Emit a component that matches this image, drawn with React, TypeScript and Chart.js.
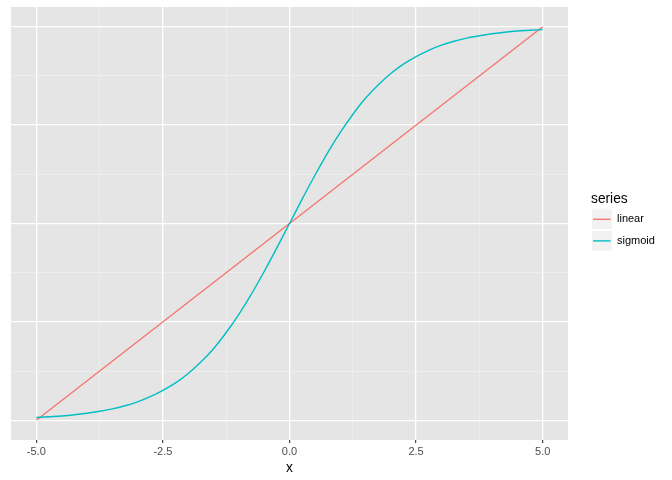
import React, { useEffect, useRef } from "react";
import { Chart, registerables } from "chart.js";

Chart.register(...registerables);

// ---- data ----
const sigmoidX = [
  -5, -4.75, -4.5, -4.25, -4, -3.75, -3.5, -3.25, -3, -2.75, -2.5, -2.25, -2, -1.75, -1.5, -1.25, -1, -0.75, -0.5, -0.25,
  0, 0.25, 0.5, 0.75, 1, 1.25, 1.5, 1.75, 2, 2.25, 2.5, 2.75, 3, 3.25, 3.5, 3.75, 4, 4.25, 4.5, 4.75, 5,
];
const sigmoidY = [
  -4.93, -4.91, -4.89, -4.86, -4.82, -4.77, -4.71, -4.63, -4.53, -4.4, -4.24, -4.05, -3.81, -3.52, -3.18, -2.77, -2.31,
  -1.79, -1.22, -0.62, 0, 0.62, 1.22, 1.79, 2.31, 2.77, 3.18, 3.52, 3.81, 4.05, 4.24, 4.4, 4.53, 4.63, 4.71, 4.77, 4.82,
  4.86, 4.89, 4.91, 4.93,
];
const linearX = [-5, 5];
const linearY = [-5, 5];

const seriesNames = ["linear", "sigmoid"];
const seriesColors = ["#F8766D", "#00BFC4"];
const legendTitle = "series";
const xAxisTitle = "x";

const xMajorTicks = [-5, -2.5, 0, 2.5, 5];
const xTickLabels = ["-5.0", "-2.5", "0.0", "2.5", "5.0"];
const xMinorTicks = [-3.75, -1.25, 1.25, 3.75];
const yMajorTicks = [-5, -2.5, 0, 2.5, 5];
const yMinorTicks = [-3.75, -1.25, 1.25, 3.75];

const FONT = "'Liberation Sans', Arial, Helvetica, sans-serif";

const isIn = (arr: number[], v: number) => arr.some((a) => Math.abs(a - v) < 1e-9);

const panelPlugin = {
  id: "panelBg",
  beforeDraw(chart: any) {
    const { ctx, chartArea } = chart;
    ctx.save();
    ctx.fillStyle = "#E5E5E5";
    ctx.fillRect(chartArea.left, chartArea.top, chartArea.right - chartArea.left, chartArea.bottom - chartArea.top);
    ctx.restore();
  },
};

const legendPlugin = {
  id: "ggLegend",
  afterDraw(chart: any) {
    const ctx = chart.ctx;
    ctx.save();
    const x0 = 591;
    ctx.fillStyle = "#000000";
    ctx.font = `13.75px ${FONT}`;
    ctx.textBaseline = "alphabetic";
    ctx.textAlign = "left";
    ctx.fillText(legendTitle, x0, 203);
    const key = 21.6;
    const top0 = 208.5;
    seriesNames.forEach((name, i) => {
      const y = top0 + i * key;
      ctx.fillStyle = "#F2F2F2";
      ctx.fillRect(x0, y, key, key);
      ctx.strokeStyle = "#FFFFFF";
      ctx.lineWidth = 1;
      ctx.strokeRect(x0 + 0.5, y + 0.5, key - 1, key - 1);
      ctx.strokeStyle = seriesColors[i];
      ctx.lineWidth = 1.4;
      ctx.beginPath();
      ctx.moveTo(x0 + 2, y + key / 2);
      ctx.lineTo(x0 + key - 2, y + key / 2);
      ctx.stroke();
      ctx.fillStyle = "#000000";
      ctx.font = `11px ${FONT}`;
      ctx.textBaseline = "middle";
      ctx.fillText(name, 617, y + key / 2);
    });
    ctx.restore();
  },
};

export default function App() {
  const canvasRef = useRef<HTMLCanvasElement | null>(null);

  useEffect(() => {
    if (!canvasRef.current) return;
    const allX = [...xMajorTicks, ...xMinorTicks].sort((a, b) => a - b);
    const allY = [...yMajorTicks, ...yMinorTicks].sort((a, b) => a - b);
    const chart = new Chart(canvasRef.current, {
      type: "scatter",
      data: {
        datasets: [
          {
            label: seriesNames[0],
            data: linearX.map((x, i) => ({ x, y: linearY[i] })),
            borderColor: seriesColors[0],
            backgroundColor: seriesColors[0],
            borderWidth: 1.4,
            showLine: true,
            pointRadius: 0,
            order: 1,
          },
          {
            label: seriesNames[1],
            data: sigmoidX.map((x, i) => ({ x, y: sigmoidY[i] })),
            borderColor: seriesColors[1],
            backgroundColor: seriesColors[1],
            borderWidth: 1.4,
            showLine: true,
            pointRadius: 0,
            cubicInterpolationMode: "monotone",
            order: 0,
          },
        ],
      },
      options: {
        animation: false,
        responsive: true,
        maintainAspectRatio: false,
        layout: { padding: { left: 11, right: 104, top: 7, bottom: 0 } },
        plugins: { legend: { display: false }, tooltip: { enabled: false } },
        scales: {
          x: {
            type: "linear",
            min: -5.5,
            max: 5.5,
            afterBuildTicks: (scale: any) => {
              scale.ticks = allX.map((v) => ({ value: v }));
            },
            afterFit: (scale: any) => {
              scale.height = 40;
            },
            border: { display: false },
            grid: {
              color: (c: any) => (isIn(xMajorTicks, c.tick?.value) ? "#FFFFFF" : "#F2F2F2"),
              lineWidth: (c: any) => (isIn(xMajorTicks, c.tick?.value) ? 1.3 : 0.6),
              tickColor: (c: any) => (isIn(xMajorTicks, c.tick?.value) ? "#333333" : "rgba(0,0,0,0)"),
              tickLength: 3,
              tickWidth: 1.1,
              drawTicks: true,
            },
            ticks: {
              autoSkip: false,
              maxRotation: 0,
              padding: 2,
              color: "#4D4D4D",
              font: { family: FONT, size: 11 },
              callback: (value: any) => {
                const idx = xMajorTicks.findIndex((m) => Math.abs(m - Number(value)) < 1e-9);
                return idx >= 0 ? xTickLabels[idx] : "";
              },
            },
            title: {
              display: true,
              text: xAxisTitle,
              color: "#000000",
              font: { family: FONT, size: 13.75 },
              padding: { top: 0, bottom: 4 },
            },
          },
          y: {
            type: "linear",
            min: -5.5,
            max: 5.5,
            afterBuildTicks: (scale: any) => {
              scale.ticks = allY.map((v) => ({ value: v }));
            },
            afterFit: (scale: any) => {
              scale.width = 0;
            },
            border: { display: false },
            grid: {
              color: (c: any) => (isIn(yMajorTicks, c.tick?.value) ? "#FFFFFF" : "#F2F2F2"),
              lineWidth: (c: any) => (isIn(yMajorTicks, c.tick?.value) ? 1.3 : 0.6),
              drawTicks: false,
            },
            ticks: { display: false },
          },
        },
      },
      plugins: [panelPlugin, legendPlugin],
    } as any);
    return () => chart.destroy();
  }, []);

  return (
    <div style={{ position: "absolute", left: 0, top: 0, width: 672, height: 480, background: "#FFFFFF" }}>
      <canvas ref={canvasRef} />
    </div>
  );
}
